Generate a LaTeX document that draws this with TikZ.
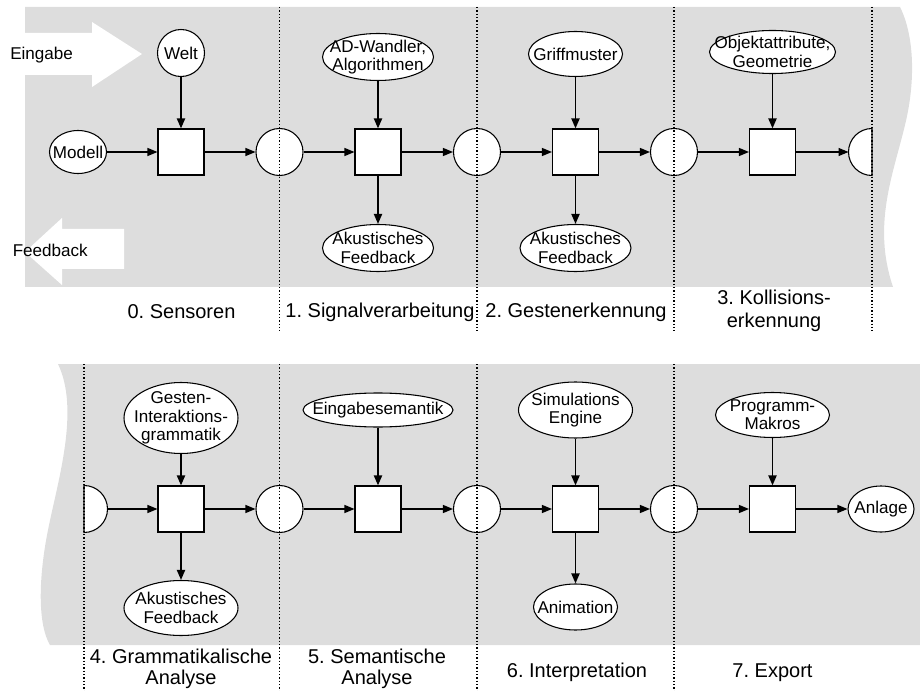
\documentclass[tikz,border=0pt]{standalone}
\usepackage{fontspec}
\setmainfont{Liberation Sans}
\usetikzlibrary{arrows.meta,shapes.geometric}
\definecolor{bandgray}{RGB}{221,221,221}
\newcommand\nodefont{\fontsize{12.8pt}{13.8pt}\selectfont}
\newcommand\stagefont{\fontsize{15pt}{17pt}\selectfont}
\frenchspacing
\begin{document}
\begin{tikzpicture}[x=0.75pt,y=-0.75pt,
  box/.style={draw, fill=white, line width=0.8pt, minimum size=34.5pt, inner sep=0pt},
  circ/.style={circle, draw, fill=white, line width=0.8pt, minimum size=35.25pt, inner sep=0pt},
  ell/.style={ellipse, draw, fill=white, line width=0.8pt, inner sep=0pt},
  eltext/.style={align=center, font=\nodefont, inner sep=0pt},
  harr/.style={-{Triangle[length=7.5pt,width=6pt]}, line width=0.9pt},
  varr/.style={-{Triangle[length=7.5pt,width=6pt]}, line width=1.4pt},
  sepline/.style={line width=0.9pt, dash pattern=on 0.9pt off 1.6pt},
  stage/.style={font=\stagefont, anchor=base, inner sep=0pt},
  side/.style={font=\nodefont, anchor=base west, inner sep=0pt},
  half/.style={draw, fill=white, line width=0.8pt},
]
\useasboundingbox (0,0) rectangle (920,691);
% bands
\fill[bandgray] (25,7) -- (900,7) .. controls (914,35) and (916,80) .. (905,125)
  .. controls (893,175) and (872,225) .. (893,287) -- (25,287) -- cycle;
\fill[bandgray] (58,364) -- (920,364) -- (920,645) -- (50,645)
  .. controls (38,625) and (38,580) .. (48,530)
  .. controls (58,480) and (80,410) .. (58,364) -- cycle;
% big arrows
\fill[white] (25,33) -- (92,33) -- (92,22) -- (142,54) -- (92,87) -- (92,75) -- (25,75) -- cycle;
\fill[white] (25,252) -- (62,218) -- (62,229) -- (124,229) -- (124,269) -- (62,269) -- (62,285) -- cycle;
\node[side] (eingabe) at (10,60) {Eingabe};
\node[side] (feedback) at (12.5,257) {Feedback};

% top row
\node[ell, minimum width=42.75pt, minimum height=32.25pt, label={[eltext]center:Modell}] (modell) at (78,152) {};
\node[box] (s0) at (181,152) {};
\node[circ] (c1) at (279.5,152) {};
\node[box] (s1) at (378,152) {};
\node[circ] (c2) at (477,152) {};
\node[box] (s2) at (575.5,152) {};
\node[circ] (c3) at (674,152) {};
\node[box] (s3) at (772.5,152) {};
\draw[half] (872,128.5) arc[start angle=-90, end angle=-270, radius=23.5] -- cycle;
\coordinate (h1) at (848.5,152);

\node[circ, label={[eltext]center:Welt}] (welt) at (181,53) {};
\node[ell, minimum width=83.25pt, minimum height=35.25pt, label={[eltext]center:{AD-Wandler,\\Algorithmen}}] (ad) at (378,57) {};
\node[ell, minimum width=70.5pt, minimum height=33.75pt, label={[eltext]center:Griffmuster}] (griff) at (575.5,54) {};
\node[ell, minimum width=94.5pt, minimum height=32.25pt, label={[eltext]center:{Objektattribute,\\Geometrie}}] (obj) at (772.5,52) {};
\node[ell, minimum width=83.25pt, minimum height=35.25pt, label={[eltext]center:{Akustisches\\Feedback}}] (af1) at (378,248) {};
\node[ell, minimum width=83.25pt, minimum height=35.25pt, label={[eltext]center:{Akustisches\\Feedback}}] (af2) at (575.5,248) {};

\draw[harr] (modell) -- (s0);
\draw[harr] (s0) -- (c1);
\draw[harr] (c1) -- (s1);
\draw[harr] (s1) -- (c2);
\draw[harr] (c2) -- (s2);
\draw[harr] (s2) -- (c3);
\draw[harr] (c3) -- (s3);
\draw[harr] (s3) -- (h1);
\draw[varr] (welt) -- (s0);
\draw[varr] (ad) -- (s1);
\draw[varr] (griff) -- (s2);
\draw[varr] (obj) -- (s3);
\draw[varr] (s1) -- (af1);
\draw[varr] (s2) -- (af2);

% bottom row
\draw[half] (84,485.5) arc[start angle=-90, end angle=90, radius=23.5] -- cycle;
\coordinate (h2) at (107.5,509);
\node[box] (s4) at (181,509) {};
\node[circ] (c5) at (279.5,509) {};
\node[box] (s5) at (378,509) {};
\node[circ] (c6) at (477,509) {};
\node[box] (s6) at (575.5,509) {};
\node[circ] (c7) at (674,509) {};
\node[box] (s7) at (772.5,509) {};
\node[ell, minimum width=49.5pt, minimum height=34.5pt, label={[eltext]center:Anlage}] (anlage) at (881,509) {};

\node[ell, minimum width=85.5pt, minimum height=53.25pt, label={[eltext]center:{Gesten-\\Interaktions-\\grammatik}}] (gesten) at (181,418) {};
\node[ell, minimum width=112.5pt, minimum height=25.5pt, label={[eltext]center:Eingabesemantik}] (eing) at (378,410) {};
\node[ell, minimum width=85.5pt, minimum height=42pt, label={[eltext]center:{Simulations\\Engine}}] (sim) at (575.5,410) {};
\node[ell, minimum width=85.5pt, minimum height=33.75pt, label={[eltext]center:{Programm-\\Makros}}] (prog) at (772.5,415) {};
\node[ell, minimum width=85.5pt, minimum height=41.25pt, label={[eltext]center:{Akustisches\\Feedback}}] (af3) at (181,608) {};
\node[ell, minimum width=63pt, minimum height=34.5pt, label={[eltext]center:Animation}] (anim) at (575.5,607) {};

\draw[harr] (h2) -- (s4);
\draw[harr] (s4) -- (c5);
\draw[harr] (c5) -- (s5);
\draw[harr] (s5) -- (c6);
\draw[harr] (c6) -- (s6);
\draw[harr] (s6) -- (c7);
\draw[harr] (c7) -- (s7);
\draw[harr] (s7) -- (anlage);
\draw[varr] (gesten) -- (s4);
\draw[varr] (eing) -- (s5);
\draw[varr] (sim) -- (s6);
\draw[varr] (prog) -- (s7);
\draw[varr] (s4) -- (af3);
\draw[varr] (s6) -- (anim);

% separators
\foreach \xx in {279.5,477,674,872} \draw[sepline] (\xx,7) -- (\xx,331);
\foreach \xx in {84,279.5,477,674} \draw[sepline] (\xx,364) -- (\xx,691);

% stage labels
\node[stage] (l0) at (181.5,319) {0. Sensoren};
\node[stage] (l1) at (380,318) {1. Signalverarbeitung};
\node[stage] (l2) at (576,318) {2. Gestenerkennung};
\node[stage] (l3a) at (774,305) {3. Kollisions-};
\node[stage] (l3b) at (774,327) {erkennung};
\node[stage] (l4a) at (181,663) {4. Grammatikalische};
\node[stage] (l4b) at (181,684) {Analyse};
\node[stage] (l5a) at (377,663) {5. Semantische};
\node[stage] (l5b) at (377,684) {Analyse};
\node[stage] (l6) at (577,677) {6. Interpretation};
\node[stage] (l7) at (772.5,677) {7. Export};
\end{tikzpicture}
\end{document}
